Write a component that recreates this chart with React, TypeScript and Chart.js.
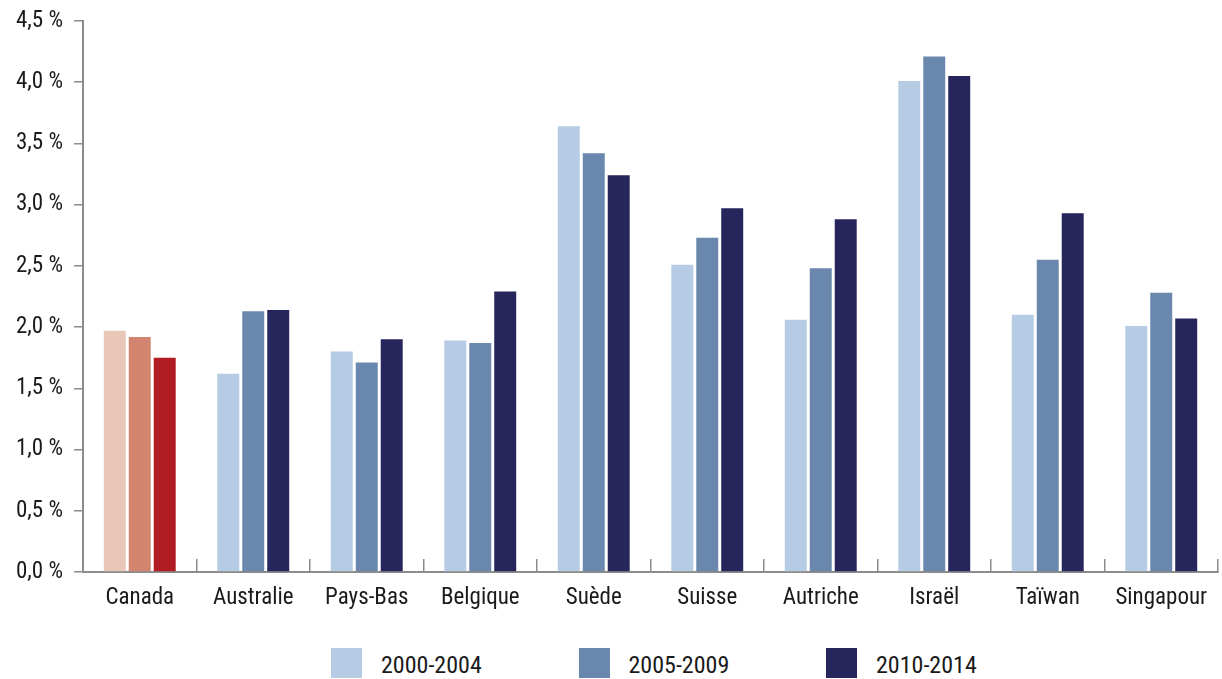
import React, { useEffect, useRef } from "react";
import { Chart, registerables } from "chart.js";

Chart.register(...registerables);

// Countries along the horizontal axis
const categories = [
  "Canada",
  "Australie",
  "Pays-Bas",
  "Belgique",
  "Suède",
  "Suisse",
  "Autriche",
  "Israël",
  "Taïwan",
  "Singapour",
];

// Average share per period (%)
const period2000 = [1.97, 1.62, 1.8, 1.89, 3.64, 2.51, 2.06, 4.01, 2.1, 2.01];
const period2005 = [1.92, 2.13, 1.71, 1.87, 3.42, 2.73, 2.48, 4.21, 2.55, 2.28];
const period2010 = [1.75, 2.14, 1.9, 2.29, 3.24, 2.97, 2.88, 4.05, 2.93, 2.07];

const seriesLabels = ["2000-2004", "2005-2009", "2010-2014"];

// Value axis ticks
const yTickValues = [0, 0.5, 1, 1.5, 2, 2.5, 3, 3.5, 4, 4.5];

// Blue shades for the comparison countries, red shades for Canada
const blueShades = ["#B5CCE4", "#6A87AD", "#26255C"];
const redShades = ["#E8C7B8", "#D2846E", "#B01C22"];

const FONT = "'Roboto Condensed', 'Liberation Sans Narrow', 'DejaVu Sans Condensed', 'Open Sans', sans-serif";
const TEXT = "#1a1a1a";
const AXIS = "#8c8c8c";

const fmt = (v: number) => v.toFixed(1).replace(".", ",") + " %";

function App() {
  const ref = useRef<HTMLCanvasElement | null>(null);

  useEffect(() => {
    document.body.style.margin = "0";
    const canvas = ref.current;
    if (!canvas) return;

    const values = [period2000, period2005, period2010];
    const datasets = values.map((data, s) => ({
      label: seriesLabels[s],
      data,
      backgroundColor: categories.map((c) => (c === "Canada" ? redShades[s] : blueShades[s])),
      borderWidth: 0,
      categoryPercentage: 0.66,
      barPercentage: 0.88,
    }));

    const chart = new Chart(canvas, {
      type: "bar",
      data: { labels: categories, datasets },
      options: {
        responsive: false,
        animation: false,
        layout: { padding: { top: 21, right: 4, bottom: 0, left: 0 } },
        plugins: {
          legend: { display: false },
          tooltip: { enabled: false },
        },
        scales: {
          x: {
            offset: true,
            grid: {
              offset: true,
              drawOnChartArea: false,
              drawTicks: true,
              tickLength: -13,
              color: AXIS,
              lineWidth: 1.5,
            },
            border: { display: true, color: AXIS, width: 2 },
            ticks: {
              color: TEXT,
              padding: 25,
              maxRotation: 0,
              autoSkip: false,
              font: { family: FONT, size: 23 },
            },
            afterFit: (scale: any) => {
              scale.height = 68;
              scale.paddingLeft = 0;
              scale.paddingRight = 0;
            },
          },
          y: {
            min: 0,
            max: 4.5,
            afterBuildTicks: (scale: any) => {
              scale.ticks = yTickValues.map((v) => ({ value: v }));
            },
            grid: {
              drawOnChartArea: false,
              drawTicks: true,
              tickLength: 9,
              color: AXIS,
              lineWidth: 1.5,
            },
            border: { display: true, color: AXIS, width: 2 },
            ticks: {
              color: TEXT,
              padding: 11,
              font: { family: FONT, size: 23 },
              callback: (v: any) => fmt(Number(v)),
            },
            afterFit: (scale: any) => {
              scale.width = 83;
              scale.paddingTop = 0;
              scale.paddingBottom = 0;
            },
          },
        },
      },
    });

    return () => chart.destroy();
  }, []);

  return (
    <div style={{ position: "absolute", left: 0, top: 0, width: 1222, height: 679, background: "#fff" }}>
      <canvas ref={ref} width={1222} height={640} style={{ position: "absolute", left: 0, top: 0 }} />
      <div
        style={{
          position: "absolute",
          left: 331,
          top: 648,
          display: "flex",
          fontFamily: FONT,
          fontSize: 24,
          color: TEXT,
        }}
      >
        {seriesLabels.map((label, i) => (
          <div key={label} style={{ width: 247.5, display: "flex", alignItems: "center", height: 30 }}>
            <span style={{ display: "inline-block", width: 31, height: 30, background: blueShades[i], marginRight: 19 }} />
            <span style={{ lineHeight: "30px", position: "relative", top: 2 }}>{label}</span>
          </div>
        ))}
      </div>
    </div>
  );
}

export default App;
